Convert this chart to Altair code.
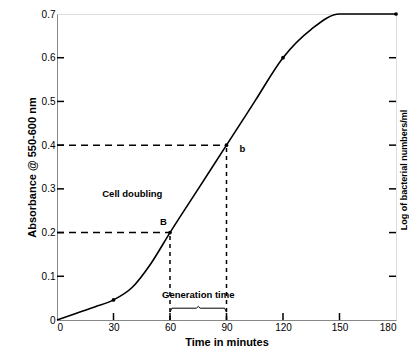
import altair as alt
import pandas as pd

# Growth curve
time_min = [0, 10, 20, 30, 40, 50, 60, 75, 90, 105, 120, 135, 150, 165, 180]
absorb   = [0, 0.015, 0.03, 0.046, 0.075, 0.13, 0.2, 0.3, 0.4, 0.5, 0.6, 0.665, 0.7, 0.7, 0.7]

dot_x = [30, 60, 90, 120, 180]
dot_y = [0.046, 0.2, 0.4, 0.6, 0.7]

x_ticks = [0, 30, 60, 90, 120, 150, 180]
y_ticks = [0, 0.1, 0.2, 0.3, 0.4, 0.5, 0.6, 0.7]
inner_x_ticks = [30, 60, 90, 120, 150]
inner_y_ticks = [0.1, 0.2, 0.3, 0.4, 0.5, 0.6]

# Dashed guide lines (doubling from B to b)
h_guides = pd.DataFrame({"x": [0, 0], "x2": [60, 90], "y": [0.2, 0.4]})
v_guides = pd.DataFrame({"x": [60, 90], "y": [0, 0], "y2": [0.2, 0.4]})

# Generation-time bracket
br_x = [60, 61, 74, 75, 76, 89, 90]
br_y = [0.018, 0.027, 0.027, 0.031, 0.027, 0.027, 0.018]

labels = pd.DataFrame({
    "x": [40, 56.5, 98.5, 75],
    "y": [0.288, 0.224, 0.391, 0.057],
    "t": ["Cell doubling", "B", "b", "Generation time"],
})

W, H = 339, 306
FONT = "Liberation Sans"

xs = alt.Scale(domain=[0, 180], nice=False)
ys = alt.Scale(domain=[0, 0.7], nice=False)

curve_df = pd.DataFrame({"t": time_min, "a": absorb})
base_x = alt.X("t:Q", scale=xs,
               axis=alt.Axis(values=x_ticks, title="Time in minutes", grid=False, ticks=False,
                             labelExpr="datum.value"))
base_y = alt.Y("a:Q", scale=ys,
               axis=alt.Axis(values=y_ticks, title="Absorbance @ 550-600 nm", grid=False, ticks=False,
                             labelExpr="datum.value == 0 ? '0' : format(datum.value, '.1f')"))

curve = alt.Chart(curve_df).mark_line(
    interpolate="monotone", color="black", strokeWidth=1.6
).encode(x=base_x, y=base_y)

dots = alt.Chart(pd.DataFrame({"t": dot_x, "a": dot_y})).mark_circle(
    color="black", size=14, opacity=1
).encode(x="t:Q", y="a:Q")

hg = alt.Chart(h_guides).mark_rule(color="black", strokeWidth=1.5, strokeDash=[7, 5]).encode(
    x="x:Q", x2="x2:Q", y="y:Q")
vg = alt.Chart(v_guides).mark_rule(color="black", strokeWidth=1.5, strokeDash=[4, 4]).encode(
    x="x:Q", y="y:Q", y2="y2:Q")

bracket = alt.Chart(pd.DataFrame({"t": br_x, "a": br_y})).mark_line(
    color="black", strokeWidth=1.0
).encode(x="t:Q", y="a:Q")

texts = alt.Chart(labels).mark_text(
    font=FONT, fontWeight="bold", fontSize=9.5, color="black"
).encode(x="x:Q", y="y:Q", text="t:N")

lt = alt.Chart(pd.DataFrame({"v": inner_y_ticks})).mark_rule(color="black", strokeWidth=1.5).encode(
    y="v:Q", x=alt.value(0), x2=alt.value(7))
rt = alt.Chart(pd.DataFrame({"v": inner_y_ticks})).mark_rule(color="black", strokeWidth=1.5).encode(
    y="v:Q", x=alt.value(W - 7), x2=alt.value(W))
bt = alt.Chart(pd.DataFrame({"v": inner_x_ticks})).mark_rule(color="black", strokeWidth=1.5).encode(
    x="v:Q", y=alt.value(H), y2=alt.value(H - 7))

right_title = alt.Chart(pd.DataFrame({"t": ["Log of bacterial numbers/ml"]})).mark_text(
    font=FONT, fontWeight="bold", fontSize=9, angle=270, color="black"
).encode(x=alt.value(W + 8), y=alt.value(H / 2 + 3), text="t:N")

chart = alt.layer(curve, hg, vg, bracket, dots, texts, lt, rt, bt, right_title).properties(
    width=W, height=H,
    autosize=alt.AutoSizeParams(type="none"),
    padding={"left": 49, "top": 6, "right": 13, "bottom": 30},
).configure_view(
    stroke="black", strokeWidth=1.6
).configure_axis(
    ticks=False, domain=True, domainColor="black", domainWidth=1.6, grid=False,
    labelFont=FONT, labelFontWeight="bold", labelFontSize=9.5, labelColor="black",
    titleFont=FONT, titleFontWeight="bold", titleFontSize=9, titleColor="black",
).configure_axisX(
    labelPadding=3, titlePadding=3
).configure_axisY(
    labelPadding=9, titlePadding=10
).configure(background="white")

chart.save("out.html", embed_options={"renderer": "svg", "actions": False})
